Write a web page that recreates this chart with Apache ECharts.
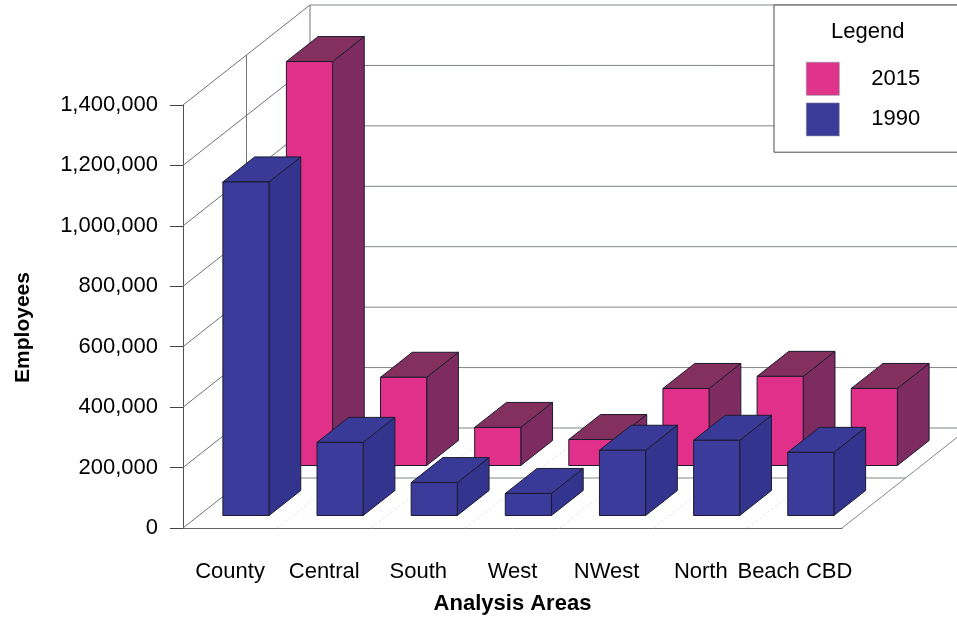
<!DOCTYPE html>
<html>
<head>
<meta charset="utf-8">
<script src="https://cdn.jsdelivr.net/npm/echarts@6/dist/echarts.min.js"></script>
<style>
  html, body { margin: 0; padding: 0; background: #fff; }
  #chart { width: 957px; height: 618px; }
</style>
</head>
<body>
<div id="chart"></div>
<script>
// Employees by analysis area, 1990 vs 2015
const areas = ["County", "Central", "South", "West", "NWest", "North", "Beach CBD"];
const emp1990 = [1104000, 242000, 109000, 73000, 216000, 249000, 209000];
const emp2015 = [1337000, 292000, 126000, 86000, 255000, 295000, 255000];
const yTicks = [0, 200000, 400000, 600000, 800000, 1000000, 1200000, 1400000];

// oblique depth of the whole floor, in pixels
const DX = 127;
const DY = -100;
const FONT = "'Liberation Sans', Arial, sans-serif";

const chart = echarts.init(document.getElementById("chart"), null, { renderer: "canvas" });

function seg(x1, y1, x2, y2, color, dash) {
  return {
    type: "line",
    shape: { x1, y1, x2, y2 },
    style: { stroke: color || "#7f8783", lineWidth: 1, lineDash: dash || null },
  };
}

// walls and floor of the 3D box, built from the y ticks
function renderWalls(params, api) {
  const cs = params.coordSys;
  const y = api.coord([0, api.value(1)])[1];
  const left = cs.x;
  const right = cs.x + cs.width;
  const children = [
    seg(left, y, left + DX, y + DY, "#6e7470"),
    seg(left + DX, y + DY, right + DX + 30, y + DY),
  ];
  if (params.dataIndex === 0) {
    const top = cs.y;
    const bottom = cs.y + cs.height;
    const band = cs.width / areas.length;
    // faint dotted category dividers on the floor
    for (let k = 1; k < areas.length; k++) {
      const fx = left + band * k;
      children.push(seg(fx, bottom, fx + DX, bottom + DY, "#d8dcd9", [2, 3]));
    }
    children.push(seg(left + DX, top + DY, left + DX, bottom + DY, "#6e7470"));
    children.push(seg(left + DX / 2, top + DY / 2, left + DX / 2, bottom + DY / 2, "#6e7470"));
    children.push(seg(left + DX / 2, bottom + DY / 2, right + DX / 2, bottom + DY / 2));
    children.push(seg(right, bottom, right + DX, bottom + DY));
  }
  return { type: "group", children };
}

// one 3D box per category; d0/d1 = depth range of the row (0 front .. 1 back)
function boxRenderer(d0, d1, front, side, top) {
  return function (params, api) {
    const idx = api.value(0);
    const val = api.value(1);
    const band = api.size([1, 0])[0];
    const w = band * 0.49;
    const base = api.coord([idx, 0]);
    const tip = api.coord([idx, val]);
    const x0 = base[0] - w / 2 + DX * d0;
    const x1 = x0 + w;
    const yb = base[1] + DY * d0;
    const yt = tip[1] + DY * d0;
    const bx = DX * (d1 - d0);
    const by = DY * (d1 - d0);
    const edge = { stroke: "#1c1b2e", lineWidth: 1, lineJoin: "round" };
    return {
      type: "group",
      children: [
        {
          type: "polygon",
          shape: { points: [[x1, yt], [x1 + bx, yt + by], [x1 + bx, yb + by], [x1, yb]] },
          style: Object.assign({ fill: side }, edge),
        },
        {
          type: "polygon",
          shape: { points: [[x0, yt], [x1, yt], [x1 + bx, yt + by], [x0 + bx, yt + by]] },
          style: Object.assign({ fill: top }, edge),
        },
        {
          type: "rect",
          shape: { x: x0, y: yt, width: w, height: yb - yt },
          style: Object.assign({ fill: front }, edge),
        },
      ],
    };
  };
}

const option = {
  backgroundColor: "#fff",
  animation: false,
  textStyle: { fontFamily: FONT },
  grid: { left: 183, right: 115, top: 105, bottom: 90, outerBoundsMode: "none" },
  legend: {
    data: ["2015", "1990"],
    orient: "vertical",
    left: 774,
    top: 5,
    padding: [57, 90, 16, 32],
    itemWidth: 33,
    itemHeight: 33,
    itemGap: 7,
    icon: "rect",
    backgroundColor: "#fff",
    borderColor: "#4a4a4a",
    borderWidth: 1,
    borderRadius: 0,
    selectedMode: false,
    itemStyle: { borderColor: "#8a8a9a", borderWidth: 0.6 },
    textStyle: { fontSize: 22, color: "#000", fontFamily: FONT, padding: [0, 0, 0, 27] },
  },
  graphic: [
    {
      type: "text",
      left: 831,
      top: 21,
      z: 10,
      style: { text: "Legend", font: "22px " + FONT, fill: "#000" },
    },
  ],
  xAxis: {
    type: "category",
    data: areas,
    name: "Analysis Areas",
    nameLocation: "middle",
    nameGap: 65,
    nameTextStyle: { fontSize: 22, fontWeight: "bold", color: "#000", fontFamily: FONT },
    axisLine: { lineStyle: { color: "#5f6562", width: 1 } },
    axisTick: { alignWithLabel: true, length: 14, lineStyle: { color: "#333" } },
    axisLabel: { interval: 0, margin: 33, fontSize: 22, color: "#000", fontFamily: FONT },
    splitLine: { show: false },
  },
  yAxis: {
    type: "value",
    min: 0,
    max: 1400000,
    interval: 200000,
    name: "Employees",
    nameLocation: "middle",
    nameGap: 149,
    nameTextStyle: {
      fontSize: 21, fontWeight: "bold", color: "#000", fontFamily: FONT,
      padding: [0, 22, 0, 0],
    },
    axisLine: { show: true, lineStyle: { color: "#4c514e", width: 1 } },
    axisTick: { show: true, length: 13, lineStyle: { color: "#444" } },
    axisLabel: {
      margin: 25,
      fontSize: 22,
      color: "#000",
      fontFamily: FONT,
      formatter: (v) => v.toLocaleString("en-US"),
    },
    splitLine: { show: false },
  },
  series: [
    {
      name: "walls",
      type: "custom",
      silent: true,
      data: yTicks.map((v) => [0, v]),
      renderItem: renderWalls,
    },
    {
      name: "2015",
      type: "custom",
      itemStyle: { color: "#e0348b" },
      data: emp2015.map((v, i) => [i, v]),
      renderItem: boxRenderer(0.625, 0.875, "#e0308a", "#7e2b62", "#83305f"),
    },
    {
      name: "1990",
      type: "custom",
      itemStyle: { color: "#3a3a98" },
      data: emp1990.map((v, i) => [i, v]),
      renderItem: boxRenderer(0.125, 0.375, "#3a3b9b", "#33348e", "#393a98"),
    },
  ],
};

chart.setOption(option);
</script>
</body>
</html>
